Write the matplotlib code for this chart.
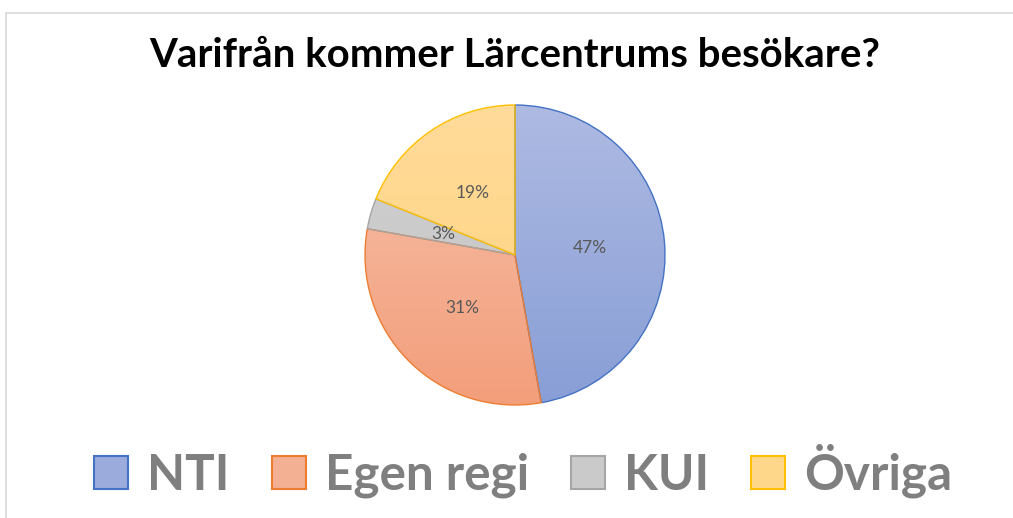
import matplotlib
matplotlib.use('Agg')
import matplotlib.pyplot as plt
import numpy as np
from matplotlib.patches import Rectangle, Patch
from matplotlib.colors import to_rgb

# ---- data ----
categories = ['NTI', 'Egen regi', 'KUI', 'Övriga']
shares = [47.2, 30.6, 3.3, 18.9]
title_text = 'Varifrån kommer Lärcentrums besökare?'

# ---- style ----
edge_colors = ['#4472C4', '#ED7D31', '#A5A5A5', '#FFC000']
top_colors = ['#AEBAE2', '#F6C1AA', '#D2D2D2', '#FFDB9A']
bottom_colors = ['#889ED6', '#F39E7B', '#C2C2C2', '#FFD37C']
FONT = 'Lato'

W, H, DPI = 1013, 518, 100
fig = plt.figure(figsize=(W / DPI, H / DPI), dpi=DPI)
fig.patch.set_facecolor('white')

# chart-area border (light grey)
fig.add_artist(Rectangle((5.5 / W, -0.02), 1.1, (H - 12.5) / H + 0.02,
                         transform=fig.transFigure, fill=False,
                         edgecolor='#D9D9D9', linewidth=1.2))

# ---- pie ----
cx, cy, r = 515, 255, 150
ax = fig.add_axes([(cx - r) / W, (H - cy - r) / H, 2 * r / W, 2 * r / H])
wedges, texts, autotexts = ax.pie(
    shares, startangle=90, counterclock=False, autopct='%.0f%%',
    pctdistance=0.5, wedgeprops=dict(linewidth=1.0),
    textprops=dict(color='#595959', fontsize=12.5, family=FONT))

g = np.linspace(0, 1, 256)[:, None, None]
for w, tc, bc, ec in zip(wedges, top_colors, bottom_colors, edge_colors):
    img = (1 - g) * np.array(to_rgb(tc)) + g * np.array(to_rgb(bc))
    im = ax.imshow(img, extent=(-1, 1, -1, 1), origin='upper', aspect='auto',
                   interpolation='bilinear', zorder=0.5)
    im.set_clip_path(w)
    w.set_facecolor('none')
    w.set_edgecolor(ec)
    w.set_zorder(1)
    w.set_clip_on(False)
for t in autotexts:
    t.set_zorder(3)
ax.set_xlim(-1, 1)
ax.set_ylim(-1, 1)
ax.set_aspect('equal')
ax.axis('off')

# ---- title ----
title = fig.text(515 / W, (H - 67) / H, title_text, ha='center', va='baseline',
                 fontsize=26, fontweight='bold', color='black', family=FONT)

# ---- legend ----
mid_colors = [tuple((np.array(to_rgb(t)) + np.array(to_rgb(b))) / 2)
              for t, b in zip(top_colors, bottom_colors)]
handles = [Patch(facecolor=m, edgecolor=e, linewidth=1.5)
           for m, e in zip(mid_colors, edge_colors)]


def make_legend(fs):
    fpx = fs * DPI / 72.0
    return fig.legend(handles, categories, ncol=4, loc='center',
                      bbox_to_anchor=(523 / W, (H - 471) / H), frameon=False,
                      prop=dict(family=FONT, weight='bold', size=fs),
                      labelcolor='#7F7F7F',
                      handlelength=34 / fpx, handleheight=33 / fpx,
                      handletextpad=19 / fpx, columnspacing=42 / fpx,
                      borderpad=0, borderaxespad=0)


fs = 34
leg = make_legend(fs)
for _ in range(3):
    fig.canvas.draw()
    rend = fig.canvas.get_renderer()
    tb = title.get_window_extent(rend)
    title.set_fontsize(title.get_fontsize() * 726 / tb.width)
    lb = leg.get_window_extent(rend)
    fs = fs * 860 / lb.width
    leg.remove()
    leg = make_legend(fs)

fig.savefig('out.png', dpi=DPI, facecolor='white')
